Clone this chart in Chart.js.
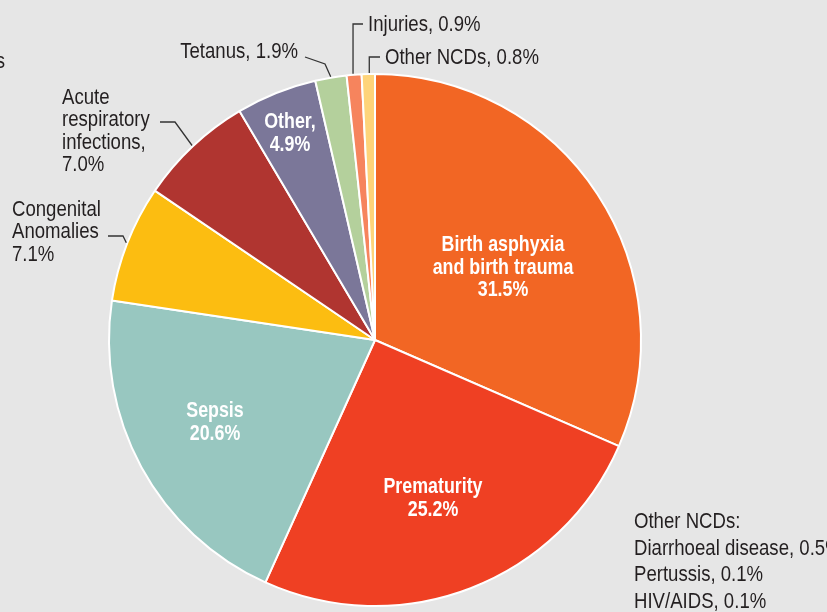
<!DOCTYPE html>
<html>
<head>
<meta charset="utf-8">
<script src="https://cdn.jsdelivr.net/npm/chart.js@4.4.1/dist/chart.umd.min.js"></script>
<style>
html,body{margin:0;padding:0;background:#e6e6e6;}
#wrap{position:relative;width:827px;height:612px;overflow:hidden;background:#e6e6e6;}
canvas{display:block;}
</style>
</head>
<body>
<div id="wrap"><canvas id="c" width="827" height="612"></canvas></div>
<script>
const categories = ["Birth asphyxia and birth trauma","Prematurity","Sepsis","Congenital Anomalies","Acute respiratory infections","Other","Tetanus","Injuries","Other NCDs"];
const values = [31.5, 25.2, 20.6, 7.1, 7.0, 4.9, 1.9, 0.9, 0.8];
const colors = ["#f26624","#ef4023","#98c7c0","#fcbd11","#b03530","#7b7799","#b4d09c","#f6845d","#fed47a"];
const otherNCDs = ["Diarrhoeal disease, 0.5%","Pertussis, 0.1%","HIV/AIDS, 0.1%"];

const FONT = '"Liberation Sans","Arimo",Arial,sans-serif';
const INK = '#231f20';

function fmt(v){ return v.toFixed(1) + '%'; }

const labelPlugin = {
  id: 'labels',
  afterDraw(chart){
    const ctx = chart.ctx;
    const arcs = chart.getDatasetMeta(0).data;
    function edge(i, extra){
      const a = arcs[i];
      const m = (a.startAngle + a.endAngle)/2;
      const r = a.outerRadius + (extra||0);
      return [a.x + r*Math.cos(m), a.y + r*Math.sin(m)];
    }
    function txt(t, x, y, align, sx){
      ctx.save();
      ctx.translate(x, y);
      ctx.scale(sx, 1);
      ctx.textAlign = align;
      ctx.fillText(t, 0, 0);
      ctx.restore();
    }
    ctx.save();
    ctx.textBaseline = 'middle';
    // inside labels (bold white)
    ctx.fillStyle = '#ffffff';
    ctx.font = 'bold 22px ' + FONT;
    const SB = 0.81;
    function inner(lines, x, y, lh){
      lines.forEach((t,k)=>txt(t, x, y + k*lh, 'center', SB));
    }
    inner(["Birth asphyxia","and birth trauma",fmt(values[0])], 503, 245, 22.5);
    inner(["Prematurity",fmt(values[1])], 433, 487, 22.5);
    inner(["Sepsis",fmt(values[2])], 215, 411, 22.5);
    inner(["Other,",fmt(values[5])], 290, 122, 22.5);

    // outside labels
    ctx.fillStyle = INK;
    ctx.font = '22px ' + FONT;
    const SN = 0.845;
    const lh = 22.3;
    ["Acute","respiratory","infections,",fmt(values[4])].forEach((t,k)=>txt(t, 62, 98 + k*lh, 'left', SN));
    ["Congenital","Anomalies",fmt(values[3])].forEach((t,k)=>txt(t, 12, 210 + k*lh, 'left', SN));
    txt(categories[6] + ", " + fmt(values[6]), 298, 52, 'right', SN);
    txt(categories[7] + ", " + fmt(values[7]), 368, 25, 'left', SN);
    txt(categories[8] + ", " + fmt(values[8]), 385, 58, 'left', SN);
    txt("s", 5, 62, 'right', SN);
    ["Other NCDs:"].concat(otherNCDs).forEach((t,k)=>txt(t, 634, 522 + k*26.6, 'left', SN));

    // leader lines
    ctx.strokeStyle = '#333333';
    ctx.lineWidth = 1.3;
    function path(pts){
      ctx.beginPath();
      ctx.moveTo(pts[0][0], pts[0][1]);
      for(let k=1;k<pts.length;k++) ctx.lineTo(pts[k][0], pts[k][1]);
      ctx.stroke();
    }
    const pT = edge(6, 1);
    path([[305,57],[325,64],pT]);
    const pI = edge(7, 1);
    path([[363,24],[pI[0]-1,24],[pI[0]-1,pI[1]]]);
    const pO = edge(8, 1);
    path([[380,57],[pO[0]+1,57],[pO[0]+1,pO[1]]]);
    const pA = edge(4, 1);
    path([[160,122],[175,122],pA]);
    const pC = edge(3, 1);
    path([[108,236],[123,236],pC]);
    ctx.restore();
  }
};

new Chart(document.getElementById('c'), {
  type: 'pie',
  data: {
    labels: categories,
    datasets: [{
      data: values,
      backgroundColor: colors,
      borderColor: '#ffffff',
      borderWidth: 2,
      hoverOffset: 0,
      offset: 0
    }]
  },
  options: {
    responsive: false,
    animation: false,
    events: [],
    layout: { padding: { left: 108, right: 185, top: 73, bottom: 5 } },
    plugins: { legend: { display: false }, tooltip: { enabled: false } }
  },
  plugins: [labelPlugin]
});
</script>
</body>
</html>
